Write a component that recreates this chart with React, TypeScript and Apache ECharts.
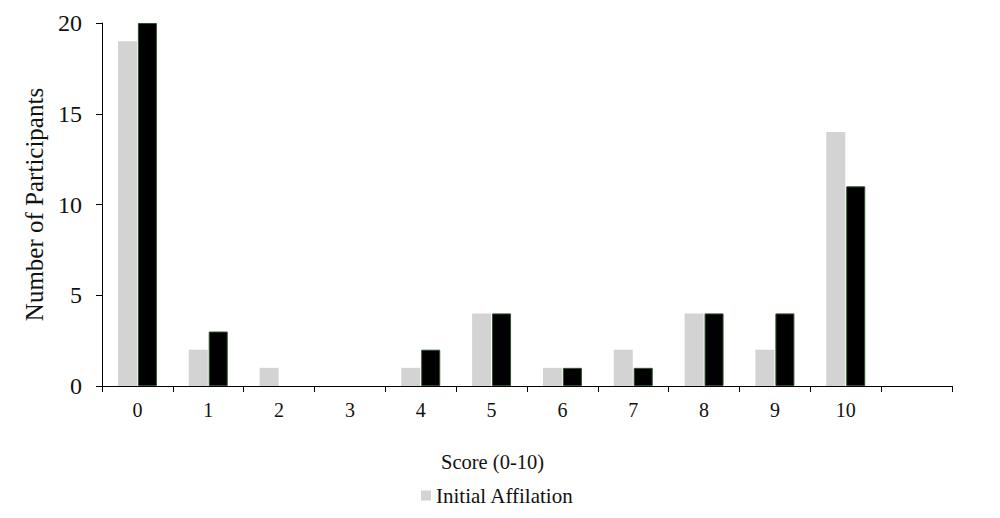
import * as echarts from 'echarts';
import { useEffect, useRef } from 'react';

const SCORES = ['0', '1', '2', '3', '4', '5', '6', '7', '8', '9', '10', ''];
const INITIAL = [19, 2, 1, 0, 1, 4, 1, 2, 4, 2, 14, null];
const FINAL = [20, 3, 0, 0, 2, 4, 1, 1, 4, 4, 11, null];
const Y_TICKS = { min: 0, max: 20, interval: 5 };

const FONT = '"Liberation Serif", "Times New Roman", serif';

export default function App() {
  const ref = useRef<HTMLDivElement | null>(null);

  useEffect(() => {
    if (!ref.current) return undefined;
    const chart = echarts.init(ref.current, undefined, { renderer: 'svg' });

    // zero-height bars would otherwise show a stray border line
    const finalData = FINAL.map((v) => (v === 0 ? { value: 0, itemStyle: { borderWidth: 0 } } : v));

    chart.setOption({
      animation: false,
      textStyle: { fontFamily: FONT, color: '#111' },
      grid: { left: 102, right: 48, top: 23, bottom: 132 },
      legend: {
        data: ['Initial Affilation'],
        left: 416,
        top: 480,
        icon: 'rect',
        itemWidth: 10,
        itemHeight: 10,
        textStyle: { fontFamily: FONT, fontSize: 21, color: '#111' },
      },
      graphic: [
        {
          type: 'text',
          left: 441,
          top: 451,
          style: { text: 'Score (0-10)', font: `20.5px ${FONT}`, fill: '#111' },
        },
      ],
      xAxis: {
        type: 'category',
        data: SCORES,
        axisLine: { lineStyle: { color: '#000', width: 1 } },
        axisTick: { show: true, length: 6, alignWithLabel: false, lineStyle: { color: '#000' } },
        axisLabel: { fontFamily: FONT, fontSize: 20, color: '#111', margin: 14 },
      },
      yAxis: {
        type: 'value',
        min: Y_TICKS.min,
        max: Y_TICKS.max,
        interval: Y_TICKS.interval,
        name: 'Number of Participants',
        nameLocation: 'middle',
        nameGap: 52,
        nameTextStyle: { fontFamily: FONT, fontSize: 25, color: '#111' },
        splitLine: { show: false },
        axisLine: { show: true, lineStyle: { color: '#000', width: 1 } },
        axisTick: { show: true, length: 6, lineStyle: { color: '#000' } },
        axisLabel: { fontFamily: FONT, fontSize: 24, color: '#111', margin: 20 },
      },
      series: [
        {
          name: 'Initial Affilation',
          type: 'bar',
          data: INITIAL,
          barWidth: 19,
          barGap: '5%',
          itemStyle: { color: '#d3d3d3' },
        },
        {
          name: 'Final Affilation',
          type: 'bar',
          data: finalData,
          barWidth: 19,
          itemStyle: { color: '#000', borderColor: '#2f4f2f', borderWidth: 1 },
        },
      ],
    });

    return () => chart.dispose();
  }, []);

  return (
    <div
      ref={ref}
      style={{ position: 'fixed', left: 0, top: 0, width: 1000, height: 518, background: '#fff' }}
    />
  );
}
